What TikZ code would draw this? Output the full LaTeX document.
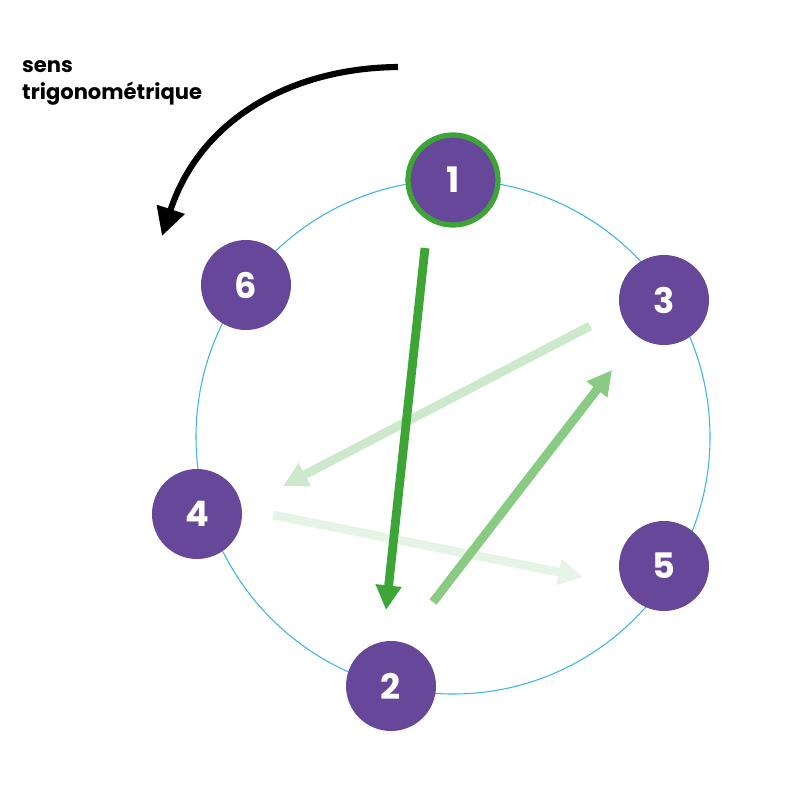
\documentclass[tikz,border=0pt]{standalone}
\usepackage{fontspec}
\setmainfont{Poppins}[BoldFont={* Bold}]
\usetikzlibrary{arrows.meta}
\definecolor{purp}{HTML}{66479A}
\definecolor{g1}{HTML}{3DA535}
\definecolor{g2}{HTML}{8ACB84}
\definecolor{g3}{HTML}{CDE9CB}
\definecolor{g4}{HTML}{E6F4E5}
\definecolor{ring}{HTML}{3DB4E5}
\begin{document}
\begin{tikzpicture}[x=0.02cm,y=-0.02cm,
  num/.style={circle,fill=purp,minimum size=1.8cm,inner sep=0pt,text=white,font=\bfseries\fontsize{20}{20}\selectfont},
  arr/.style={line width=5pt,-{Triangle[length=14pt,width=14pt]}}]
\useasboundingbox (0,0) rectangle (800,800);
\draw[ring,line width=0.6pt] (453,437) circle[radius=257*0.02cm];
\node[num] (n6) at (246,285) {6};
\node[num] (n3) at (664,300) {3};
\node[num] (n4) at (197,514) {4};
\node[num] (n5) at (664,566) {5};
\node[num] (n2) at (391,686) {2};
\node[num,draw=g1,line width=3pt] (n1) at (453,180) {1};
\coordinate (a1s) at (425,248); \coordinate (a1e) at (386,610);
\coordinate (a2s) at (433,602); \coordinate (a2e) at (612,370);
\coordinate (a3s) at (590,326); \coordinate (a3e) at (283,486);
\coordinate (a4s) at (273,515); \coordinate (a4e) at (583,577);
\draw[arr,g4] (a4s) -- (a4e);
\draw[arr,g3] (a3s) -- (a3e);
\draw[arr,g2] (a2s) -- (a2e);
\draw[arr,g1] (a1s) -- (a1e);
\coordinate (bs) at (398,67); \coordinate (be) at (162,236);
\draw[line width=3.5pt,-{Triangle[length=16pt,width=16pt]}] (bs) .. controls (290,68) and (200,120) .. (be);
\node[anchor=west,align=left,font=\bfseries\fontsize{12}{15}\selectfont] (lbl) at (16,83) {sens\\trigonométrique};
\end{tikzpicture}
\end{document}
